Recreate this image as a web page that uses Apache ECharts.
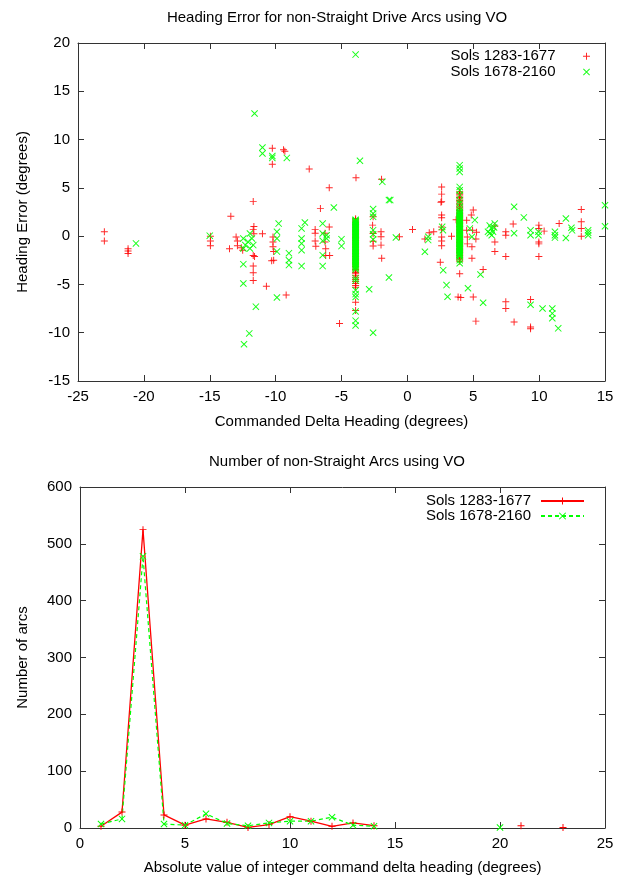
<!DOCTYPE html>
<html>
<head>
<meta charset="utf-8">
<script src="https://cdn.jsdelivr.net/npm/echarts@6/dist/echarts.min.js"></script>
<style>
  html, body { margin: 0; padding: 0; background: #fff; }
  #chart { width: 618px; height: 877px; }
</style>
</head>
<body>
<div id="chart"></div>
<script>
// ---- Heading error vs commanded delta heading, [delta heading, error] in degrees ----
const errSols1283 = [
  [-23.0, 0.45], [-23.0, -0.5],
  [-21.2, -1.3], [-21.2, -1.55], [-21.2, -1.8],
  [-14.95, 0.0], [-14.95, -0.5], [-14.95, -1.0],
  [-13.4, 2.05], [-13.5, -1.3], [-13.0, -0.1], [-12.9, -0.5], [-12.9, -1.0], [-12.6, -1.2], [-12.5, -1.45],
  [-11.7, 3.6], [-11.65, 1.0], [-11.7, 0.7], [-11.65, 0.25], [-11.7, -2.0], [-11.6, -2.1],
  [-11.7, -3.1], [-11.7, -3.8], [-11.7, -4.6],
  [-11.0, 0.25], [-10.7, -5.2],
  [-10.25, 9.1], [-10.25, 7.45], [-10.2, -0.1], [-10.2, -0.6], [-10.2, -1.1], [-10.15, -1.6],
  [-10.15, -2.5], [-10.3, -2.55],
  [-9.4, 8.95], [-9.3, 8.8], [-9.2, -6.1],
  [-7.45, 6.95], [-7.0, 0.7], [-7.0, 0.3], [-7.0, -0.5], [-6.95, -1.05],
  [-6.6, 2.85], [-6.25, 0.3], [-6.25, -0.6], [-6.2, -1.3], [-6.2, -2.0],
  [-5.93, 5.0], [-5.93, 0.95], [-5.9, -2.0],
  [-5.15, -9.05],
  [-3.9, 6.05],
  [-2.64, 1.14], [-2.6, 0.28], [-2.6, -0.52], [-2.6, -1.03], [-2.6, 2.0],
  [-2.0, 0.45], [-2.0, -0.07], [-2.0, -0.93], [-1.95, -2.3], [-1.96, 5.9],
  [-0.6, -0.07], [0.39, 0.69], [1.33, -0.3], [1.66, 0.35], [2.0, 0.45],
  [2.6, 5.1], [2.6, 4.35], [2.6, 3.6], [2.55, 3.5], [2.6, 2.2], [2.6, 1.9], [2.6, 0.95],
  [2.6, 0.65], [2.6, -0.1], [2.6, -0.5], [2.6, -1.0], [2.5, -2.7],
  [3.35, 0.0], [3.7, 1.7],
  [3.85, -6.3], [4.05, -6.35],
  [4.5, 1.65], [4.5, 0.6], [4.55, -0.1], [4.55, -0.8], [4.85, 2.2], [5.0, 2.7], [4.95, 0.6],
  [4.9, -1.1], [4.9, -2.3], [5.0, -6.3], [5.2, -8.8], [5.75, -3.45], [5.25, 0.4], [5.2, -0.3],
  [6.64, 1.05], [6.64, -0.6], [6.64, -1.6],
  [7.47, 0.45], [7.47, 0.1], [7.47, -2.1], [7.47, -6.8], [7.47, -7.5],
  [8.03, 1.26], [8.1, -8.9],
  [9.35, -6.55], [9.35, -9.4], [9.35, -9.6],
  [9.98, 1.14], [9.98, 0.8], [9.98, -0.6], [9.98, -0.8], [9.98, -2.1], [10.38, 0.52],
  [11.52, 1.3],
  [13.2, 2.76], [13.2, 1.5], [13.2, 0.8], [13.2, 0.0]
];
// dense columns of arcs commanded near -4 and +4 degrees (error values)
const sols1283NearMinus4 = [1.8, 1.66, 1.5, 1.36, 1.2, 1.05, 0.92, 0.75, 0.6, 0.46, 0.3, 0.15, 0.0,
  -0.15, -0.28, -0.45, -0.6, -0.74, -0.9, -1.05, -1.2, -1.36, -1.5, -1.65, -1.8, -1.95, -2.1,
  -2.26, -2.4, -2.55, -2.7, -2.86, -3.0, -3.15, -3.3, -3.45, -3.6, -3.76, -3.9, -4.1, -4.3,
  -4.5, -4.7, -4.9, -5.1, -5.3, -6.85, -7.7];
const sols1283NearPlus4 = [4.6, 4.45, 4.3, 4.15, 4.0, 3.85, 3.7, 3.55, 3.4, 3.25, 3.1, 2.95, 2.8,
  2.65, 2.5, 2.35, 2.2, 2.05, 1.9, 1.75, 1.6, 1.45, 1.3, 1.15, 1.0, 0.85, 0.7, 0.55, 0.4, 0.25,
  0.1, -0.05, -0.2, -0.35, -0.5, -0.65, -0.8, -0.95, -1.1, -1.25, -1.4, -1.55, -1.7, -1.85,
  -2.0, -2.15, -2.3, -2.45, -2.6, -3.9];

const errSols1678 = [
  [-20.6, -0.75], [-15.0, 0.05],
  [-12.45, -0.24], [-12.3, -0.93], [-12.45, -1.28], [-11.95, 0.27], [-11.8, -0.24], [-12.1, -0.59],
  [-11.7, -0.93], [-11.95, -1.28], [-12.45, -2.9], [-12.45, -4.9], [-11.5, -7.3], [-12.0, -10.07],
  [-12.4, -11.2],
  [-11.6, 12.7],
  [-11.0, 9.18], [-11.0, 8.56], [-10.25, 8.3], [-10.25, 8.1],
  [-9.9, 0.45], [-9.9, -0.24], [-9.9, -1.6], [-9.77, 1.3], [-9.9, -6.35],
  [-9.15, 8.1],
  [-8.99, -1.76], [-8.99, -2.5], [-8.99, -3.0],
  [-8.03, 0.8], [-8.03, -0.24], [-8.03, -0.76], [-8.03, -1.45], [-8.03, -3.1], [-7.78, 1.42],
  [-6.43, 1.3], [-6.43, 0.27], [-6.43, -0.49], [-6.43, -1.97], [-6.43, -3.1], [-6.13, 0.1], [-6.13, -0.24],
  [-5.58, 2.97], [-5.0, -0.31], [-5.0, -1.03],
  [-3.93, 18.8], [-3.6, 7.8],
  [-2.9, -5.5],
  [-2.6, 2.8], [-2.6, 2.35], [-2.6, 2.0], [-2.6, 0.62], [-2.6, 0.2], [-2.6, -0.34], [-2.6, -10.0],
  [-1.9, 5.62], [-1.4, 3.73], [-1.3, 3.73], [-1.4, -4.28], [-0.87, -0.14],
  [1.33, -1.62], [1.58, -0.07], [1.58, -0.41],
  [2.64, 0.96], [2.7, 0.62], [2.72, -3.52], [2.97, -5.07], [3.05, -6.28],
  [4.6, -5.4], [4.74, 0.8], [5.12, 1.66], [4.9, -0.07],
  [5.55, -3.97], [5.75, -6.9],
  [6.25, 1.1], [6.38, 0.8], [6.5, 0.45], [6.25, 0.3], [6.4, 0.1], [6.63, 1.3], [6.12, 0.45], [6.58, 0.9],
  [8.1, 3.04], [8.1, 0.3], [8.84, 1.94],
  [9.35, 0.6], [9.35, 0.1], [9.35, -7.1],
  [9.95, 0.45], [9.95, 0.1],
  [10.26, -7.5],
  [11.0, -7.5], [11.0, -8.0], [11.0, -8.5],
  [11.2, 0.45], [11.2, 0.1], [11.2, -0.15],
  [11.45, -9.55],
  [12.03, 1.83], [12.03, -0.2],
  [12.45, 0.87], [12.5, 0.6],
  [13.72, 0.6], [13.72, 0.35], [13.72, 0.1],
  [15.0, 3.2], [15.0, 1.03]
];
const sols1678NearMinus4 = [1.7, 1.62, 1.55, 1.45, 1.38, 1.3, 1.2, 1.12, 1.05, 0.95, 0.88, 0.8,
  0.7, 0.62, 0.55, 0.45, 0.38, 0.3, 0.2, 0.12, 0.05, -0.05, -0.12, -0.2, -0.3, -0.38, -0.45,
  -0.55, -0.62, -0.7, -0.8, -0.88, -0.95, -1.05, -1.12, -1.2, -1.3, -1.38, -1.45, -1.55, -1.62,
  -1.7, -1.8, -1.88, -1.95, -2.05, -2.12, -2.2, -2.3, -2.38, -2.45, -2.55, -2.62, -2.7, -2.8,
  -2.9, -3.0, -3.1, -3.2, -3.3, -3.45, -4.35, -4.6, -5.6, -6.0, -6.3, -7.8, -8.75, -9.25];
const sols1678NearPlus4 = [7.35, 7.0, 6.65, 5.1, 4.75, 4.25, 3.7, 3.4, 3.0, 2.7,
  2.5, 2.42, 2.35, 2.25, 2.18, 2.1, 2.0, 1.92, 1.85, 1.75, 1.68, 1.6, 1.5, 1.42, 1.35, 1.25,
  1.18, 1.1, 1.0, 0.92, 0.85, 0.75, 0.68, 0.6, 0.5, 0.42, 0.35, 0.25, 0.18, 0.1, 0.0, -0.08,
  -0.15, -0.25, -0.32, -0.4, -0.5, -0.58, -0.65, -0.75, -0.82, -0.9, -1.0, -1.08, -1.15, -1.25,
  -1.32, -1.4, -1.5, -1.58, -1.65, -1.75, -1.82, -1.9, -2.0, -2.1, -2.5, -2.8];
const headingMinus4 = -3.93;
const headingPlus4 = 3.97;

// ---- Number of arcs per |integer commanded delta heading| ----
const deltaBins = [1, 2, 3, 4, 5, 6, 7, 8, 9, 10, 11, 12, 13, 14, 15, 16, 17, 18, 19, 20, 21, 22, 23];
const arcsSols1283 = [3, 28, 525, 23, 5, 16, 10, 1, 6, 20, 12, 3, 9, 4,
  null, null, null, null, null, null, 4, null, 1];
const arcsSols1678 = [7, 16, 478, 7, 5, 25, 8, 4, 9, 12, 12, 19, 5, 3,
  null, null, null, null, null, 1, null, null, null];

const seriesNames = ['Sols 1283-1677', 'Sols 1678-2160'];

// ---- styling ----
const FONT = '"Liberation Sans", Arial, Helvetica, sans-serif';
const RED = '#ff0000';
const GREEN = '#00ff00';
const FRAME = '#333333';
const PLUS = 'path://M0,4.3H10V5.7H0Z M4.3,0H5.7V10H4.3Z';
const CROSS = 'path://M0,1L1,0L10,9L9,10Z M9,0L10,1L1,10L0,9Z';

const withX = (x, ys) => ys.map(y => [x, y]);
const pairs = (xs, ys) => xs.map((x, i) => [x, ys[i] == null ? '-' : ys[i]]);

const textStyle = { color: '#000', fontSize: 15, fontFamily: FONT };

function axis(extra) {
  return Object.assign({
    type: 'value',
    axisLine: { show: true, onZero: false, lineStyle: { color: FRAME, width: 1 } },
    axisTick: { show: true, inside: true, length: 6, lineStyle: { color: FRAME, width: 1 } },
    splitLine: { show: false },
    axisLabel: Object.assign({ margin: 8 }, textStyle),
    nameTextStyle: textStyle
  }, extra);
}
const mirror = { axisLabel: { show: false }, name: '' };

const chart = echarts.init(document.getElementById('chart'), null, { renderer: 'canvas' });
chart.setOption({
  animation: false,
  backgroundColor: '#fff',
  title: [
    { text: 'Heading Error for non-Straight Drive Arcs using VO', left: 337, top: 10, textAlign: 'center',
      padding: 0, textStyle: Object.assign({ fontWeight: 'normal' }, textStyle) },
    { text: 'Number of non-Straight Arcs using VO', left: 337, top: 454, textAlign: 'center',
      padding: 0, textStyle: Object.assign({ fontWeight: 'normal' }, textStyle) }
  ],
  grid: [
    { left: 78, top: 43, width: 527, height: 338 },
    { left: 80, top: 487, width: 525, height: 341 }
  ],
  xAxis: [
    axis({ gridIndex: 0, position: 'bottom', min: -25, max: 15, interval: 5,
      name: 'Commanded Delta Heading (degrees)', nameLocation: 'middle', nameGap: 33 }),
    axis(Object.assign({ gridIndex: 0, position: 'top', min: -25, max: 15, interval: 5 }, mirror)),
    axis({ gridIndex: 1, position: 'bottom', min: 0, max: 25, interval: 5,
      name: 'Absolute value of integer command delta heading (degrees)', nameLocation: 'middle', nameGap: 32 }),
    axis(Object.assign({ gridIndex: 1, position: 'top', min: 0, max: 25, interval: 5 }, mirror))
  ],
  yAxis: [
    axis({ gridIndex: 0, position: 'left', min: -15, max: 20, interval: 5,
      name: 'Heading Error (degrees)', nameLocation: 'middle', nameGap: 48 }),
    axis(Object.assign({ gridIndex: 0, position: 'right', min: -15, max: 20, interval: 5 }, mirror)),
    axis({ gridIndex: 1, position: 'left', min: 0, max: 600, interval: 100,
      name: 'Number of arcs', nameLocation: 'middle', nameGap: 50 }),
    axis(Object.assign({ gridIndex: 1, position: 'right', min: 0, max: 600, interval: 100 }, mirror))
  ],
  legend: [
    { data: seriesNames, orient: 'vertical', align: 'right', right: 28, top: 48.5, padding: 0,
      itemGap: 0, itemWidth: 52, itemHeight: 7, selectedMode: false,
      textStyle: Object.assign({ lineHeight: 15.7 }, textStyle) },
    { data: seriesNames.map(n => n + ' arcs'), orient: 'vertical', align: 'right', right: 33, top: 493.5,
      padding: 0, itemGap: 0, itemWidth: 43, itemHeight: 9, selectedMode: false,
      formatter: n => n.replace(' arcs', ''),
      textStyle: Object.assign({ lineHeight: 14.5, padding: [0, 5, 0, 0] }, textStyle) }
  ],
  series: [
    { name: seriesNames[0], type: 'scatter', xAxisIndex: 0, yAxisIndex: 0, clip: false,
      symbol: PLUS, symbolSize: 7, itemStyle: { color: RED, opacity: 0.85 },
      data: errSols1283.concat(withX(headingMinus4, sols1283NearMinus4), withX(headingPlus4, sols1283NearPlus4)) },
    { name: seriesNames[1], type: 'scatter', xAxisIndex: 0, yAxisIndex: 0, clip: false,
      symbol: CROSS, symbolSize: 7, itemStyle: { color: GREEN, opacity: 0.9 },
      data: errSols1678.concat(withX(headingMinus4, sols1678NearMinus4), withX(headingPlus4, sols1678NearPlus4)) },
    { name: seriesNames[0] + ' arcs', type: 'line', xAxisIndex: 2, yAxisIndex: 2,
      symbol: PLUS, symbolSize: 7, showAllSymbol: true, connectNulls: false,
      lineStyle: { color: RED, width: 1.3, type: 'solid' },
      itemStyle: { color: RED, borderWidth: 0 },
      data: pairs(deltaBins, arcsSols1283) },
    { name: seriesNames[1] + ' arcs', type: 'line', xAxisIndex: 2, yAxisIndex: 2,
      symbol: CROSS, symbolSize: 7, showAllSymbol: true, connectNulls: false,
      lineStyle: { color: GREEN, width: 1.2, type: [4, 3] },
      itemStyle: { color: GREEN, borderWidth: 0 },
      data: pairs(deltaBins, arcsSols1678) }
  ]
});
</script>
</body>
</html>
